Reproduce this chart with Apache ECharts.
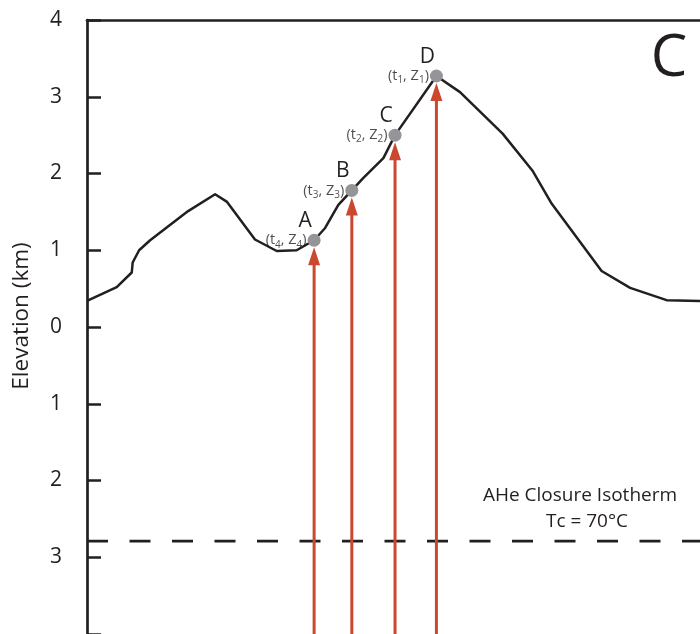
<!DOCTYPE html>
<html>
<head>
<meta charset="utf-8">
<style>
  html, body { margin: 0; padding: 0; background: #fff; }
  #chart { width: 700px; height: 634px; }
</style>
<script src="https://cdn.jsdelivr.net/npm/echarts@6/dist/echarts.min.js"></script>
</head>
<body>
<div id="chart"></div>
<script>
// Topographic profile: horizontal distance (km) and elevation (km)
const profileDist = [0, 0.97, 1.46, 1.49, 1.70, 2.06, 3.30, 4.18, 4.57, 5.48, 6.19, 6.84,
  7.41, 7.77, 8.20, 8.64, 9.01, 9.67, 10.05, 11.40, 12.17, 13.56, 14.53, 15.14,
  16.79, 17.72, 18.91, 20];
const profileElev = [0.34, 0.52, 0.71, 0.84, 1.00, 1.13, 1.51, 1.73, 1.63, 1.14, 0.99, 1.00,
  1.13, 1.29, 1.59, 1.78, 1.94, 2.20, 2.50, 3.27, 3.06, 2.52, 2.04, 1.62,
  0.73, 0.51, 0.35, 0.34];

// Sample sites along the ridge
const siteNames = ['A', 'B', 'C', 'D'];
const siteSubs = ['4', '3', '2', '1'];
const siteDist = [7.41, 8.64, 10.05, 11.40];
const siteElev = [1.13, 1.78, 2.50, 3.27];

// AHe closure isotherm depth (km, negative = below sea level)
const isothermDepth = -2.79;
const isothermTitle = 'AHe Closure Isotherm';
const isothermTemp = 'Tc = 70°C';

// Axis extent
const distRange = [0, 20];
const elevRange = [-4, 4];

const FONT = 'Open Sans';
const INK = '#231f20';
const RED = '#c9482e';
const GREY = '#939598';
const MARKER = 13;

const chart = echarts.init(document.getElementById('chart'), null, { renderer: 'canvas' });

const siteData = siteDist.map((d, i) => ({
  value: [d, siteElev[i]],
  name: siteNames[i],
  sub: siteSubs[i]
}));

const option = {
  animation: false,
  backgroundColor: '#fff',
  grid: { left: 87, right: 0, top: 20, bottom: -2 },
  xAxis: {
    type: 'value',
    min: distRange[0],
    max: distRange[1],
    position: 'top',
    axisLine: { show: true, onZero: false, lineStyle: { color: INK, width: 2.7 } },
    axisTick: { show: false },
    axisLabel: { show: false },
    splitLine: { show: false }
  },
  yAxis: {
    type: 'value',
    min: elevRange[0],
    max: elevRange[1],
    interval: 1,
    axisLine: { show: true, onZero: false, lineStyle: { color: INK, width: 2.7 } },
    axisTick: { show: true, inside: true, length: 14, lineStyle: { color: INK, width: 2.5 } },
    axisLabel: {
      margin: 25,
      color: INK,
      fontFamily: FONT,
      fontSize: 21,
      padding: [3, 0, 0, 0],
      formatter: v => (v === elevRange[0] ? '' : String(Math.abs(v)))
    },
    splitLine: { show: false }
  },
  graphic: [
    {
      type: 'text', x: 22, y: 316, rotation: Math.PI / 2,
      style: { text: 'Elevation (km)', fill: INK, font: '22.5px "' + FONT + '"', align: 'center', verticalAlign: 'middle' }
    },
    {
      type: 'text', x: 669, y: 59,
      style: { text: 'C', fill: INK, font: '58px "' + FONT + '"', align: 'center', verticalAlign: 'middle' }
    },
    {
      type: 'text', x: 580, y: 496,
      style: { text: isothermTitle, fill: INK, font: '19px "' + FONT + '"', align: 'center', verticalAlign: 'middle' }
    },
    {
      type: 'text', x: 587, y: 522,
      style: { text: isothermTemp, fill: INK, font: '19px "' + FONT + '"', align: 'center', verticalAlign: 'middle' }
    }
  ],
  series: [
    {
      // closure isotherm
      type: 'line',
      silent: true,
      symbol: 'none',
      data: [[distRange[0], isothermDepth], [distRange[1], isothermDepth]],
      lineStyle: { color: INK, width: 2.7, type: [21, 21.5] },
      z: 2
    },
    {
      // topographic profile
      type: 'line',
      silent: true,
      symbol: 'none',
      data: profileDist.map((d, i) => [d, profileElev[i]]),
      lineStyle: { color: INK, width: 2.5, join: 'round' },
      z: 3
    },
    {
      // exhumation paths from depth up to each site
      type: 'custom',
      silent: true,
      data: siteDist.map((d, i) => [d, siteElev[i]]),
      renderItem: function (params, api) {
        const top = api.coord([api.value(0), api.value(1)]);
        const bottom = api.coord([api.value(0), elevRange[0]]);
        const tipY = top[1] + MARKER / 2 + 0.5;
        const headLen = 18, headHalf = 6;
        return {
          type: 'group',
          children: [
            {
              type: 'line',
              shape: { x1: top[0], y1: bottom[1], x2: top[0], y2: tipY + headLen - 2 },
              style: { stroke: RED, lineWidth: 3 }
            },
            {
              type: 'polygon',
              shape: { points: [[top[0], tipY], [top[0] - headHalf, tipY + headLen], [top[0] + headHalf, tipY + headLen]] },
              style: { fill: RED }
            }
          ]
        };
      },
      z: 4
    },
    {
      // site markers with letter names
      type: 'scatter',
      silent: true,
      symbolSize: MARKER,
      itemStyle: { color: GREY, opacity: 1 },
      data: siteData,
      label: {
        show: true,
        position: 'inside',
        offset: [-9, -19],
        formatter: p => p.name,
        color: INK,
        fontFamily: FONT,
        fontSize: 21
      },
      z: 6
    },
    {
      // (t, Z) annotations beside each site
      type: 'scatter',
      silent: true,
      symbolSize: MARKER,
      itemStyle: { color: 'rgba(0,0,0,0)' },
      data: siteData,
      label: {
        show: true,
        position: 'left',
        distance: 1,
        formatter: p => '{n|(t}{s|' + p.data.sub + '}{n|, Z}{s|' + p.data.sub + '}{n|)}',
        rich: {
          n: { fontFamily: FONT, fontSize: 14.5, color: INK, lineHeight: 19, verticalAlign: 'middle' },
          s: { fontFamily: FONT, fontSize: 10, color: INK, lineHeight: 11, verticalAlign: 'bottom' }
        }
      },
      z: 7
    }
  ]
};

chart.setOption(option);
</script>
</body>
</html>
